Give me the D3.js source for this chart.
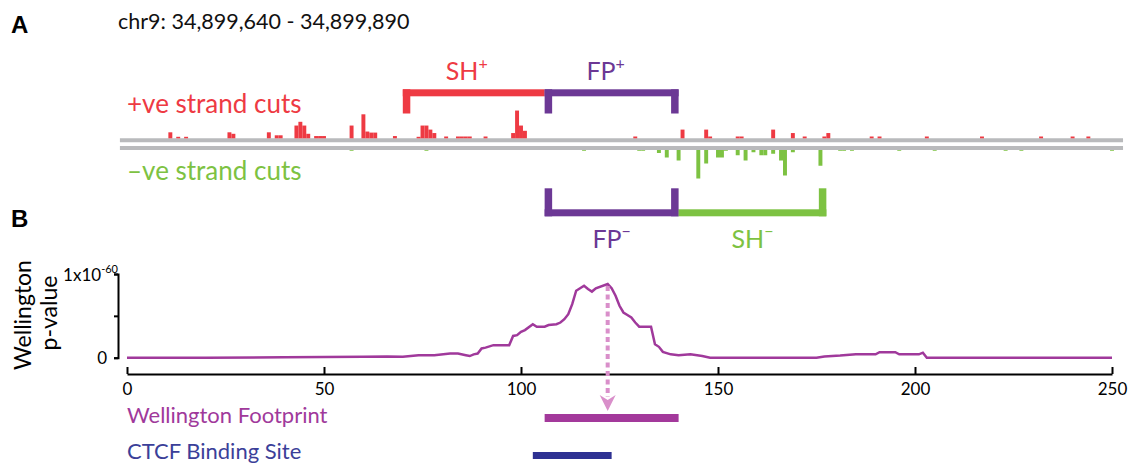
<!DOCTYPE html>
<html>
<head>
<meta charset="utf-8">
<script src="https://cdn.jsdelivr.net/npm/d3@7"></script>
<style>
  body { margin: 0; background: #fff; }
  text { font-family: Lato, "Open Sans", sans-serif; }
</style>
</head>
<body>
<svg id="fig" width="1129" height="463"></svg>
<script>
// cut counts per base, + strand
const plusPos  = [11, 13, 15, 26, 27, 36, 38, 39, 43, 44, 45, 46, 48, 49, 50, 57, 60, 61, 62, 63, 68, 74, 75, 76, 77, 78,
                  81, 84, 85, 86, 87, 91, 98, 99, 100, 101, 129, 141, 147, 148, 155, 156, 164, 169, 172, 177, 178,
                  189, 191, 203, 217, 232, 240, 244];
const plusCuts = [4, 1, 1, 4, 3, 4, 2, 2, 8.5, 11, 8.5, 3, 1.5, 1.5, 1.5, 8.5, 16, 4.5, 3.8, 3.8, 1.5, 1, 8.5, 8.5, 5.8, 3.5,
                  1.2, 1.2, 1.2, 1.2, 1.2, 1.2, 3.5, 18.5, 8.5, 5, 1.2, 5.8, 5.8, 1.2, 1.2, 1.2, 5.8, 3.5, 1.2, 1.2, 3.5,
                  1.2, 1.2, 1.2, 1.2, 1.2, 1.2, 1.2];
// cut counts per base, - strand
const minusPos  = [57, 76, 116, 130, 131, 135, 137, 140, 145, 147, 150, 151, 152, 155, 157, 159, 161, 162, 164, 166, 167,
                   169, 176, 181, 182, 184, 196, 205, 223, 227, 250];
const minusCuts = [0.5, 0.5, 0.5, 0.5, 0.5, 2, 5, 7, 19, 9, 5, 5, 0.5, 3.5, 7, 1.5, 3.5, 3.5, 2.5, 7, 17,
                   1.5, 10.5, 0.5, 0.5, 0.5, 0.5, 0.5, 0.5, 0.5, 0.5];

// Wellington p-value track (scaled 0..1 of 1x10^-60)
const wellPos = [0, 20, 40, 60, 66, 70, 74, 78, 82, 84, 86, 87, 88, 89, 90, 91, 93, 97, 98, 99, 100, 101, 103, 104, 106,
                 107, 109, 110, 111, 112, 113, 114, 116, 117, 118, 119, 122, 123, 124, 125, 126, 127, 128, 129, 130,
                 133, 134, 135, 136, 138, 140, 143, 146, 148, 175, 177, 181, 185, 190, 191, 195, 196, 201, 202, 203, 250];
const wellVal = [0, 0, 0.005, 0.01, 0.015, 0.01, 0.03, 0.03, 0.05, 0.05, 0.03, 0.02, 0.04, 0.05, 0.11, 0.12, 0.15, 0.15,
                 0.26, 0.27, 0.31, 0.33, 0.40, 0.37, 0.37, 0.39, 0.40, 0.42, 0.46, 0.52, 0.64, 0.80, 0.86, 0.82, 0.79,
                 0.83, 0.88, 0.83, 0.74, 0.62, 0.54, 0.51, 0.48, 0.42, 0.37, 0.37, 0.16, 0.13, 0.07, 0.04, 0.03, 0.04,
                 0.02, 0, 0, 0.015, 0.025, 0.04, 0.04, 0.065, 0.065, 0.04, 0.04, 0.06, 0, 0];

const xTicks = [0, 50, 100, 150, 200, 250];
const shPlus = [70, 106];
const fpRange = [106, 140];
const shMinus = [140, 177.5];
const footprint = [106, 140];
const ctcfSite = [103, 123];
const peakPos = 122;

const red = "#ee3a43", green = "#7dc242", purple = "#6c3895", magenta = "#a0399b", blue = "#2e3192";

const svg = d3.select("#fig");
const x = d3.scaleLinear().domain([0, 250]).range([127, 1112]);
const cut = d3.scaleLinear().domain([0, 20]).range([0, 30]);
const yP = d3.scaleLinear().domain([0, 1]).range([357.7, 274]);

// panel letters + region title
svg.append("text").attr("x", 11).attr("y", 33).style("font-family", "Liberation Sans, Arial").style("font-weight", "bold")
  .style("font-size", "24px").text("A");
svg.append("text").attr("x", 11).attr("y", 227).style("font-family", "Liberation Sans, Arial").style("font-weight", "bold")
  .style("font-size", "24px").text("B");
svg.append("text").attr("x", 118).attr("y", 29).style("font-size", "21.5px").attr("fill", "#111")
  .text("chr9: 34,899,640 - 34,899,890");

// strand labels
svg.append("text").attr("x", 127).attr("y", 113).attr("fill", red).style("font-size", "26px").text("+ve strand cuts");
svg.append("text").attr("x", 127).attr("y", 180).attr("fill", green).style("font-size", "26px").text("\u2013ve strand cuts");

// strand base lines
[140.3, 148].forEach(yy => {
  svg.append("line").attr("x1", x(-1.8)).attr("x2", x(252.8)).attr("y1", yy).attr("y2", yy)
    .attr("stroke", "#b9babc").attr("stroke-width", 4);
});

const bw = x(1) - x(0);
svg.append("g").selectAll("rect").data(plusPos).join("rect")
  .attr("x", d => x(d - 0.5)).attr("width", bw)
  .attr("y", (d, i) => 138.3 - cut(plusCuts[i]))
  .attr("height", (d, i) => cut(plusCuts[i]))
  .attr("fill", red);

svg.append("g").selectAll("rect").data(minusPos).join("rect")
  .attr("x", d => x(d - 0.5)).attr("width", bw)
  .attr("y", 150)
  .attr("height", (d, i) => cut(minusCuts[i]))
  .attr("fill", green);

// brackets
function bracket(range, barY, legTop, legBot, color, legs) {
  const g = svg.append("g").attr("fill", color);
  g.append("rect").attr("x", x(range[0])).attr("width", x(range[1]) - x(range[0]))
    .attr("y", barY).attr("height", 7);
  legs.forEach(side => {
    const lx = side === "left" ? x(range[0]) : x(range[1]) - 7.5;
    g.append("rect").attr("x", lx).attr("width", 7.5).attr("y", legTop).attr("height", legBot - legTop);
  });
}
bracket(shPlus, 89.3, 89.3, 113.5, red, ["left"]);
bracket(fpRange, 89.3, 89.3, 113.5, purple, ["left", "right"]);
bracket(fpRange, 209.3, 188.3, 216.3, purple, ["left", "right"]);
bracket(shMinus, 209.3, 188.3, 216.3, green, ["right"]);

function bracketLabel(range, y, main, sup, color, dx) {
  const t = svg.append("text").attr("x", (x(range[0]) + x(range[1])) / 2 + dx).attr("y", y)
    .attr("text-anchor", "middle").attr("fill", color).style("font-size", "25px");
  t.append("tspan").text(main);
  t.append("tspan").attr("dy", -11).style("font-size", "16px").text(sup);
}
bracketLabel(shPlus, 80, "SH", "+", red, -7);
bracketLabel(fpRange, 80, "FP", "+", purple, -6);
bracketLabel(fpRange, 248, "FP", "\u2212", purple, 0);
bracketLabel(shMinus, 248, "SH", "\u2212", green, 0);

// panel B axes
const xAxis = d3.axisBottom(x).tickValues(xTicks).tickSizeInner(-7).tickSizeOuter(0).tickPadding(9);
const gx = svg.append("g").attr("transform", "translate(0,374)").call(xAxis);
gx.selectAll("path, line").attr("stroke", "#000").attr("stroke-width", 2);
gx.selectAll("text").style("font-size", "17px").style("font-family", "Lato, sans-serif").attr("fill", "#000");

const yAxis = d3.axisLeft(yP).tickValues([0, 0.5, 1]).tickSizeInner(4).tickSizeOuter(4).tickFormat("");
const gy = svg.append("g").attr("transform", "translate(118,0)").call(yAxis);
gy.selectAll("path, line").attr("stroke", "#000").attr("stroke-width", 2);

svg.append("text").attr("x", 107).attr("y", yP(0)).attr("dy", "0.35em").attr("text-anchor", "end")
  .style("font-size", "17px").text("0");
const topLabel = svg.append("text").attr("x", 118).attr("y", yP(1) + 7).attr("text-anchor", "end").style("font-size", "17px");
topLabel.append("tspan").text("1x10");
topLabel.append("tspan").attr("dy", -8).style("font-size", "11px").text("-60");

svg.append("text").attr("transform", "translate(31,315) rotate(-90)").attr("text-anchor", "middle")
  .style("font-size", "23px").text("Wellington");
svg.append("text").attr("transform", "translate(57,313) rotate(-90)").attr("text-anchor", "middle")
  .style("font-size", "23px").text("p-value");

// Wellington line
const line = d3.line().x(d => x(d[0])).y(d => yP(d[1]));
svg.append("path").datum(d3.zip(wellPos, wellVal)).attr("d", line)
  .attr("fill", "none").attr("stroke", magenta).attr("stroke-width", 2.5);

// dotted arrow from peak to footprint
const ax = x(peakPos);
svg.append("line").attr("x1", ax).attr("x2", ax).attr("y1", yP(0.88) + 2).attr("y2", 397)
  .attr("stroke", "#d98fca").attr("stroke-width", 4).attr("stroke-dasharray", "5,3.5");
svg.append("path").attr("d", `M${ax - 8},395 L${ax},400 L${ax + 8},395 L${ax},411 Z`).attr("fill", "#d98fca");

// footprint + CTCF site
svg.append("text").attr("x", 127).attr("y", 423).attr("fill", magenta).style("font-size", "22px").text("Wellington Footprint");
svg.append("rect").attr("x", x(footprint[0])).attr("width", x(footprint[1]) - x(footprint[0]))
  .attr("y", 414).attr("height", 8).attr("fill", "#a3399b");
svg.append("text").attr("x", 127).attr("y", 459).attr("fill", "#3b3f99").style("font-size", "22px").text("CTCF Binding Site");
svg.append("rect").attr("x", x(ctcfSite[0])).attr("width", x(ctcfSite[1]) - x(ctcfSite[0]))
  .attr("y", 452).attr("height", 7).attr("fill", blue);
</script>
</body>
</html>
